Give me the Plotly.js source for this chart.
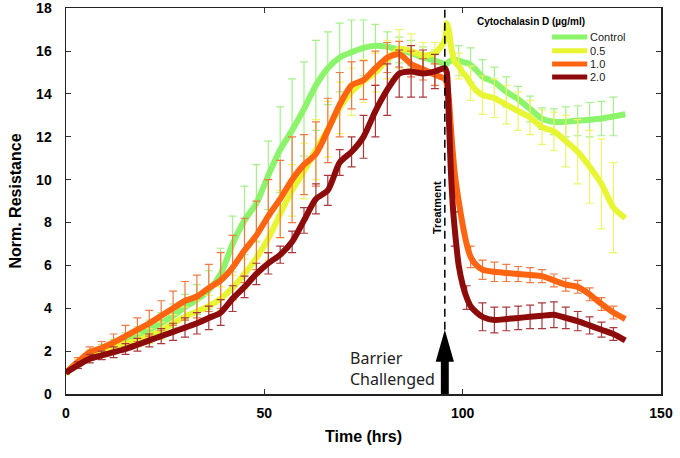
<!DOCTYPE html>
<html lang="en">
<head>
    <meta charset="UTF-8">
    <title>Cytochalasin D barrier</title>
    <script src="https://cdn.plot.ly/plotly-3.0.1.min.js"></script>
    <style>
        body { margin: 0; background: white; }
    </style>
</head>
<body>
<div id="plot"></div>

<script>
    // time points (hrs)
    const hours = [0, 3, 6, 9, 12, 15, 18, 21, 24, 27, 30, 33, 36, 39, 42, 45, 48, 51, 54, 57, 60, 63, 66, 69, 72, 75, 78, 81, 84, 87, 90, 93,
        95.5, 96, 96.5, 97, 97.5, 98,
        99, 100, 101, 102, 103.5,
        105, 108, 111, 114, 117, 120, 123, 126, 129, 132, 135, 138, 141]

    const control = [1.0, 1.45, 1.85, 2.05, 2.25, 2.5, 2.75, 3.0, 3.3, 3.65, 4.05, 4.4, 4.85, 5.6, 7.0, 8.1, 8.9, 10.2, 11.4, 12.3, 13.3, 14.4, 15.2, 15.7, 15.95, 16.15, 16.25, 16.2, 16.05, 15.9, 15.7, 15.55,
        15.4, 15.4, 15.5, 15.55, 15.6, 15.6,
        15.55, 15.5, 15.45, 15.35, 15.1,
        14.8, 14.55, 14.1, 13.75, 13.3, 12.85, 12.7, 12.7, 12.75, 12.8, 12.85, 12.95, 13.05]
    const controlSD = [0.1, 0.15, 0.2, 0.25, 0.3, 0.35, 0.4, 0.45, 0.5, 0.55, 0.6, 0.7, 0.9, 1.2, 1.3, 1.6, 1.8, 1.6, 2.0, 2.4, 2.2, 2.1, 1.7, 1.6, 1.5, 1.3, 1.0, 0.7, 0.6, 0.6, 0.5, 0.5,
        NaN, NaN, NaN, NaN, NaN, NaN,
        0.7, NaN, NaN, 0.8, NaN,
        0.8, 0.7, 0.7, 0.6, 0.6, 0.5, 0.6, 0.7, 0.7, 0.8, 0.8, 0.9, NaN]

    const dose05 = [1.0, 1.45, 1.85, 2.0, 2.2, 2.35, 2.5, 2.7, 2.95, 3.3, 3.6, 3.85, 4.1, 4.45, 4.95, 5.6, 6.35, 7.25, 8.4, 9.5, 10.4, 11.4, 12.35, 13.35, 14.1, 14.6, 15.0, 15.6, 16.1, 16.0, 15.8, 15.9,
        16.5, 17.3, 17.0, 16.3, 15.8, 15.5,
        15.3, 15.0, 14.8, 14.5, 14.15,
        13.95, 13.8, 13.5, 13.2, 12.9, 12.45, 12.25, 11.8, 11.3, 10.6, 9.8, 8.7, 8.2]
    const dose05SD = [0.1, 0.15, 0.2, 0.2, 0.25, 0.3, 0.3, 0.35, 0.4, 0.4, 0.45, 0.5, 0.5, 0.55, 0.6, 0.7, 0.8, 1.0, 1.1, 1.2, 1.3, 1.4, 1.3, 1.2, 1.1, 1.0, 0.9, 0.9, 0.9, 0.8, 0.6, 0.5,
        NaN, NaN, NaN, NaN, NaN, NaN,
        0.6, NaN, NaN, 0.8, NaN,
        0.9, 0.9, 0.9, 0.9, 0.8, 0.8, 0.9, 1.2, 1.5, 1.7, 2.1, 2.1, NaN]

    const dose10 = [1.0, 1.5, 1.95, 2.15, 2.4, 2.7, 3.0, 3.3, 3.65, 4.0, 4.35, 4.55, 4.95, 5.3, 5.9, 6.7, 7.4, 8.3, 9.1, 10.0, 10.7, 11.2, 12.3, 13.5, 14.4, 14.65, 15.2, 15.7, 15.85, 15.4, 15.15, 14.9,
        14.7, 14.5, 13.8, 12.5, 11.3, 10.3,
        9.0, 7.9, 7.0, 6.4, 6.0,
        5.8, 5.7, 5.65, 5.6, 5.55, 5.5, 5.3, 5.1, 5.0, 4.65, 4.2, 3.8, 3.5]
    const dose10SD = [0.05, 0.2, 0.25, 0.3, 0.4, 0.5, 0.55, 0.6, 0.7, 0.8, 0.9, 1.0, 1.1, 1.3, 1.5, 1.5, 1.6, 1.7, 1.8, 2.0, 1.4, 1.5, 1.5, 1.5, 1.1, 0.9, 0.8, 0.7, 0.6, 0.6, 0.5, 0.5,
        NaN, NaN, NaN, NaN, NaN, NaN,
        NaN, NaN, NaN, 0.5, NaN,
        0.45, 0.45, 0.4, 0.35, 0.35, 0.3, 0.3, 0.3, 0.3, 0.3, 0.3, 0.3, NaN]

    const dose20 = [1.0, 1.35, 1.65, 1.8, 1.95, 2.1, 2.3, 2.5, 2.7, 2.9, 3.1, 3.3, 3.55, 3.8, 4.45, 5.0, 5.6, 6.1, 6.5, 7.1, 8.1, 9.1, 9.5, 10.8, 11.3, 12.0, 13.2, 14.2, 14.95, 15.05, 14.95, 15.05,
        15.2, 15.0, 13.0, 10.5, 8.8, 7.7,
        6.0, 5.1, 4.5, 4.1, 3.8,
        3.6, 3.45, 3.5, 3.55, 3.6, 3.65, 3.7, 3.55, 3.4, 3.2, 3.0, 2.8, 2.5]
    const dose20SD = [0.05, 0.15, 0.2, 0.2, 0.25, 0.25, 0.3, 0.3, 0.35, 0.4, 0.45, 0.5, 0.55, 0.6, 0.6, 0.5, 0.5, 0.5, 0.4, 0.5, 0.6, 0.7, 0.7, 0.6, 0.7, 1.0, 1.2, 1.2, 1.1, 1.2, 1.1, 0.8,
        NaN, NaN, NaN, NaN, NaN, 0.8,
        NaN, NaN, 0.55, NaN, NaN,
        0.65, 0.6, 0.55, 0.55, 0.55, 0.6, 0.6, 0.5, 0.45, 0.4, 0.35, 0.3, NaN]

    const seriesNames = ['Control', '0.5', '1.0', '2.0']
    const legendTitle = 'Cytochalasin D (µg/ml)'
    const xTicks = [0, 50, 100, 150]
    const yTicks = [0, 2, 4, 6, 8, 10, 12, 14, 16, 18]
    const treatmentHour = 95.5

    const lineColors = ['#8cf46a', '#e8f532', '#ff6410', '#8e0b0b']
    const barColors = ['#a6f08c', '#eef466', '#ef7a44', '#a8383c']
    const means = [control, dose05, dose10, dose20]
    const sds = [controlSD, dose05SD, dose10SD, dose20SD]

    const data = means.map((ys, i) => ({
        x: hours,
        y: ys,
        type: 'scatter',
        mode: 'lines',
        name: seriesNames[i],
        line: {color: lineColors[i], width: 6, shape: 'spline', smoothing: 0.7},
        error_y: {type: 'data', array: sds[i], visible: true, color: barColors[i], thickness: 1.2, width: 4},
    }))

    const font = 'Liberation Sans, Arial, sans-serif'

    // hand-made legend (Plotly rows are too tall here)
    const legX0 = 0.817, legX1 = 0.876
    const legRows = [0.925, 0.889, 0.855, 0.821]
    const shapes = [
        {type: 'line', xref: 'x', yref: 'y', x0: treatmentHour, x1: treatmentHour, y0: 3.0, y1: 18,
            line: {color: 'black', width: 1.5, dash: '8px,5px'}},
        {type: 'path', xref: 'x', yref: 'y', fillcolor: 'black', line: {width: 0},
            path: 'M95.5,3.0 L97.8,1.5 L96.5,1.5 L96.5,0 L94.5,0 L94.5,1.5 L93.2,1.5 Z'},
    ]
    const annotations = [
        {x: 93.4, y: 8.7, xref: 'x', yref: 'y', text: '<b>Treatment</b>', textangle: -90, showarrow: false,
            font: {family: font, size: 11, color: 'black'}},
        {x: 71.0, y: 1.2, xref: 'x', yref: 'y', text: 'Barrier<br>Challenged', align: 'left', xanchor: 'left', showarrow: false,
            font: {family: 'Noto Sans, Open Sans, sans-serif', size: 16, color: '#222'}},
        {x: 0.876, y: 0.966, xref: 'paper', yref: 'paper', yanchor: 'middle', text: '<b>' + legendTitle + '</b>', showarrow: false,
            font: {family: font, size: 10, color: 'black'}},
    ]
    seriesNames.forEach((name, i) => {
        shapes.push({type: 'line', xref: 'paper', yref: 'paper', x0: legX0, x1: legX1, y0: legRows[i], y1: legRows[i],
            line: {color: lineColors[i], width: 5}})
        annotations.push({x: legX1 + 0.002, y: legRows[i], xref: 'paper', yref: 'paper', text: name,
            xanchor: 'left', yanchor: 'middle', showarrow: false, font: {family: font, size: 11, color: '#222'}})
    })

    const axisBase = {
        showline: true, linecolor: '#222', linewidth: 1.5, mirror: 'ticks',
        ticks: 'inside', ticklen: 5, tickcolor: '#333', tickwidth: 1,
        showgrid: false, zeroline: false,
        tickfont: {family: font, size: 14, weight: 'bold', color: 'black'},
    }

    const layout = {
        width: 680, height: 458,
        margin: {l: 66, r: 19, t: 8, b: 64},
        paper_bgcolor: 'white', plot_bgcolor: 'white',
        showlegend: false,
        xaxis: Object.assign({}, axisBase, {
            range: [0, 150], tickvals: xTicks, ticklabelstandoff: 6,
            title: {text: 'Time (hrs)', font: {family: font, size: 16, weight: 'bold', color: 'black'}, standoff: 10},
        }),
        yaxis: Object.assign({}, axisBase, {
            range: [0, 18.01], tickvals: yTicks, ticklabelstandoff: 10,
            title: {text: 'Norm. Resistance', font: {family: font, size: 16, weight: 'bold', color: 'black'}, standoff: 10},
        }),
        shapes: shapes,
        annotations: annotations,
    }

    Plotly.newPlot('plot', data, layout, {displayModeBar: false, staticPlot: true})
</script>
</body>
</html>
